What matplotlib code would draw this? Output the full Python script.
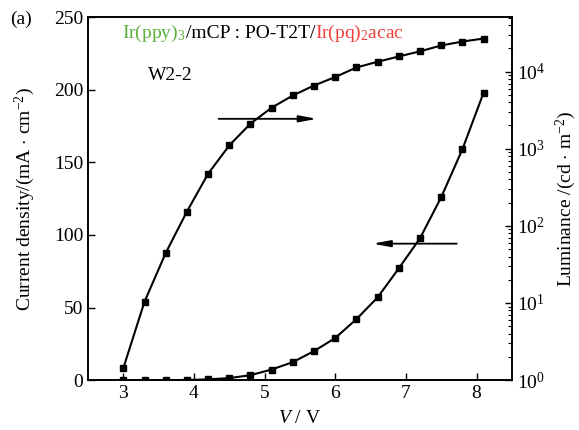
import matplotlib
matplotlib.use("Agg")
import matplotlib.pyplot as plt
from matplotlib.offsetbox import TextArea, HPacker, AnchoredOffsetbox

plt.rcParams['font.family'] = ['Liberation Serif', 'DejaVu Serif']
plt.rcParams['mathtext.fontset'] = 'custom'
plt.rcParams['mathtext.rm'] = 'Liberation Serif'
plt.rcParams['mathtext.it'] = 'Liberation Serif:italic'

# data
voltage = [3.0, 3.3, 3.6, 3.9, 4.2, 4.5, 4.8, 5.1, 5.4, 5.7,
           6.0, 6.3, 6.6, 6.9, 7.2, 7.5, 7.8, 8.1]
current_density = [0.0, 0.0, 0.0, 0.1, 0.5, 1.4, 3.4, 7.3, 12.4, 20.0,
                   29.0, 42.0, 57.0, 77.0, 97.7, 126.0, 159.0, 198.0]
luminance = [1.43, 10.4, 44.5, 153, 473, 1104, 2113, 3406, 4900, 6600,
             8500, 11300, 13400, 15700, 18300, 21800, 24500, 26800]

fig = plt.figure(figsize=(5.79, 4.30), dpi=100)
ax = fig.add_axes([0.152, 0.116, 0.732, 0.844])
ax2 = ax.twinx()

ax.plot(voltage, current_density, color='black', marker='s', markersize=5, lw=1.5)
ax2.plot(voltage, luminance, color='black', marker='s', markersize=5, lw=1.5)

ax.set_xlim(2.5, 8.5)
ax.set_ylim(0, 250)
ax2.set_yscale('log')
ax2.set_ylim(1, 5.07e4)

ax.set_xticks([3, 4, 5, 6, 7, 8])
ax.set_yticks([0, 50, 100, 150, 200, 250])
ax.tick_params(direction='in', labelsize=14, length=5, width=1)
ax2.tick_params(which='major', direction='in', labelsize=14, length=5, width=1)
ax2.tick_params(which='minor', direction='in', length=3, width=0.8)
for a in (ax, ax2):
    for s in a.spines.values():
        s.set_linewidth(1.2)

ax.set_xlabel(r'$\mathit{V}$ / V', fontsize=14, labelpad=6)
ax.set_ylabel(r'Current density/(mA $\cdot$ cm$^{-2}$)', fontsize=14, labelpad=12)
ax2.set_ylabel(r'Luminance /(cd $\cdot$ m$^{-2}$)', fontsize=14, rotation=90, labelpad=6)

# arrows
arrow_style = dict(arrowstyle='-|>,head_length=0.8,head_width=0.15',
                   color='black', lw=1.3, mutation_scale=13)
ax.annotate('', xy=(5.78, 180), xytext=(4.31, 180), arrowprops=arrow_style)
ax.annotate('', xy=(6.49, 94), xytext=(7.76, 94), arrowprops=arrow_style)

ax.text(3.35, 210, 'W2-2', fontsize=14, va='center', ha='left')
fig.text(0.018, 0.955, '(a)', fontsize=14, va='center', ha='left')

# coloured device title
parts = [
    TextArea(r'Ir(ppy)$_3$', textprops=dict(color='#5cb03c', fontsize=14)),
    TextArea('/mCP : PO-T2T/', textprops=dict(color='black', fontsize=14)),
    TextArea(r'Ir(pq)$_2$acac', textprops=dict(color='#f0403c', fontsize=14)),
]
box = HPacker(children=parts, align='baseline', pad=0, sep=0)
anchored = AnchoredOffsetbox(loc='upper left', child=box, frameon=False, pad=0,
                             bbox_to_anchor=(0.08, 0.985), bbox_transform=ax.transAxes,
                             borderpad=0)
ax.add_artist(anchored)

fig.savefig('out.png', dpi=100)
